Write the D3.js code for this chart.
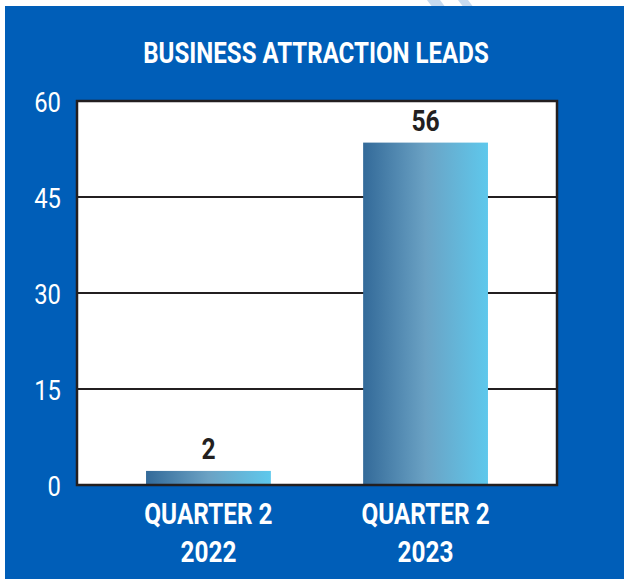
<!DOCTYPE html>
<html>
<head>
	<meta charset="utf-8">
	<title>business attraction leads</title>
	<style>
		body{
			margin: 0;
			background: white;
		}
		svg{
			display: block;
		}
		text{
			font-family: Roboto, "DejaVu Sans", sans-serif;
		}
		.title{
			fill: white;
			font-weight: bold;
			font-size: 29px;
		}
		.ytick{
			fill: white;
			font-size: 28px;
		}
		.xlab{
			fill: white;
			font-weight: bold;
			font-size: 29px;
		}
		.val{
			fill: #231f20;
			font-weight: bold;
			font-size: 29px;
		}
		.grid line{
			stroke: #231f20;
			stroke-width: 2;
		}
	</style>
	<script src="https://cdn.jsdelivr.net/npm/d3@7"></script>
</head>
<body>
  <svg width="624" height="579"></svg>
  <script>
    // data
    var quarters = ["QUARTER 2", "QUARTER 2"];
    var years = ["2022", "2023"];
    var barValues = [2.2, 53.5];   // bar lengths as drawn
    var valueLabels = ["2", "56"];  // printed on top of bars
    var yTicks = [0, 15, 30, 45, 60];

    var w = 624, h = 579;
    var svg = d3.select("svg");

    // squeeze text horizontally, the original uses a condensed face
    function condense(sel, k) {
      sel.each(function() {
        var len = this.getComputedTextLength();
        d3.select(this)
          .attr("textLength", len * k)
          .attr("lengthAdjust", "spacingAndGlyphs");
      });
    }

    // light watermark strokes peeking at top
    svg.append("path")
       .attr("d", "M427,0 L440,0 L446,8 L433,8 Z M458,0 L468,0 L474,8 L464,8 Z")
       .attr("fill", "#c6daf0");

    svg.append("rect")
       .attr("x", 5).attr("y", 6)
       .attr("width", w - 5).attr("height", h - 6)
       .attr("fill", "#005eb8");

    svg.append("text")
       .attr("class", "title")
       .attr("x", 316).attr("y", 63)
       .attr("text-anchor", "middle")
       .text("BUSINESS ATTRACTION LEADS")
       .call(condense, 0.83);

    var pLeft = 77, pRight = 557, pTop = 101, pBottom = 485;

    var x = d3.scaleBand()
              .domain(d3.range(barValues.length))
              .range([pLeft, pRight])
              .paddingInner(0.425)
              .paddingOuter(0.318);

    var y = d3.scaleLinear()
              .domain([0, 60])
              .range([pBottom, pTop]);

    var defs = svg.append("defs");
    var grad = defs.append("linearGradient")
                   .attr("id", "barGrad")
                   .attr("x1", "0%").attr("x2", "100%")
                   .attr("y1", "0%").attr("y2", "0%");
    grad.append("stop").attr("offset", "0%").attr("stop-color", "#336a99");
    grad.append("stop").attr("offset", "50%").attr("stop-color", "#6ba2c4");
    grad.append("stop").attr("offset", "100%").attr("stop-color", "#5ec8ec");

    // plot background
    svg.append("rect")
       .attr("x", pLeft).attr("y", pTop)
       .attr("width", pRight - pLeft).attr("height", pBottom - pTop)
       .attr("fill", "white");

    // gridlines
    var grid = svg.append("g").attr("class", "grid");
    grid.selectAll("line")
        .data(yTicks.filter(function(d){ return d > 0 && d < 60; }))
        .enter().append("line")
        .attr("x1", pLeft).attr("x2", pRight)
        .attr("y1", function(d){ return y(d); })
        .attr("y2", function(d){ return y(d); });

    // bars
    svg.selectAll(".bar")
       .data(barValues)
       .enter().append("rect")
       .attr("class", "bar")
       .attr("x", function(d, i){ return x(i); })
       .attr("width", x.bandwidth())
       .attr("y", function(d){ return y(d); })
       .attr("height", function(d){ return y(0) - y(d); })
       .attr("fill", "url(#barGrad)");

    // frame
    svg.append("rect")
       .attr("x", pLeft).attr("y", pTop)
       .attr("width", pRight - pLeft).attr("height", pBottom - pTop)
       .attr("fill", "none")
       .attr("stroke", "#231f20")
       .attr("stroke-width", 2.5);

    // value labels
    svg.selectAll(".val")
       .data(barValues)
       .enter().append("text")
       .attr("class", "val")
       .attr("text-anchor", "middle")
       .attr("x", function(d, i){ return x(i) + x.bandwidth() / 2; })
       .attr("y", function(d){ return y(d) - 12; })
       .text(function(d, i){ return valueLabels[i]; })
       .call(condense, 0.85);

    // y axis labels
    var yAxis = d3.axisLeft(y).tickValues(yTicks).tickSize(0).tickPadding(0);
    var ya = svg.append("g")
                .attr("transform", "translate(61,0)")
                .call(yAxis);
    ya.select(".domain").remove();
    ya.selectAll("text")
      .attr("class", "ytick")
      .attr("font-family", null).attr("font-size", null)
      .attr("fill", null)
      .attr("dy", "0.36em")
      .call(condense, 0.85);

    // x labels, two lines
    var xl = svg.selectAll(".xlab")
                .data(quarters)
                .enter().append("text")
                .attr("class", "xlab")
                .attr("text-anchor", "middle")
                .attr("x", function(d, i){ return x(i) + x.bandwidth() / 2; })
                .attr("y", 524);
    xl.append("tspan")
      .text(function(d){ return d; })
      .call(condense, 0.84);
    xl.append("tspan")
      .attr("x", function(d, i){ return x(i) + x.bandwidth() / 2; })
      .attr("dy", 37.5)
      .text(function(d, i){ return years[i]; })
      .call(condense, 0.84);
  </script>
</body>
</html>
